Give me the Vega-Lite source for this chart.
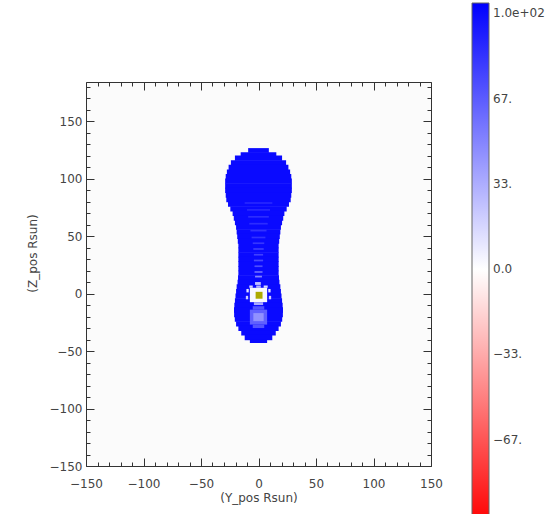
{
  "$schema": "https://vega.github.io/schema/vega-lite/v6.json",
  "width": 345,
  "height": 384,
  "autosize": "none",
  "padding": {"left": 86, "top": 82, "right": 128, "bottom": 48},
  "background": "white",
  "config": {
    "view": {"stroke": null, "fill": "#fbfbfb"},
    "axis": {
      "grid": false,
      "labelFont": "DejaVu Sans",
      "labelFontSize": 12,
      "labelColor": "#444",
      "titleFont": "DejaVu Sans",
      "titleFontSize": 12,
      "titleFontWeight": "normal",
      "titleColor": "#444",
      "domainColor": "#333",
      "tickColor": "#333",
      "labelFlush": false,
      "labelOverlap": false
    },
    "legend": {
      "labelFont": "DejaVu Sans",
      "labelFontSize": 12,
      "labelColor": "#444"
    }
  },
  "resolve": {"axis": {"x": "independent", "y": "independent"}},
  "layer": [
    {
      "data": {
        "values": [
          {"y0": -9, "y1": 9, "z0": 122.4, "z1": 126.5, "v": 100},
          {"y0": -15.5, "y1": 15.5, "z0": 119.4, "z1": 123, "v": 100},
          {"y0": -20.5, "y1": 20.5, "z0": 115.4, "z1": 120, "v": 100},
          {"y0": -24, "y1": 24, "z0": 111.4, "z1": 116, "v": 100},
          {"y0": -26, "y1": 26, "z0": 107.4, "z1": 112, "v": 100},
          {"y0": -27.5, "y1": 27.5, "z0": 103.4, "z1": 108, "v": 100},
          {"y0": -28.5, "y1": 28.5, "z0": 99.4, "z1": 104, "v": 100},
          {"y0": -29, "y1": 29, "z0": 95.4, "z1": 100, "v": 100},
          {"y0": -29, "y1": 29, "z0": 91.4, "z1": 96, "v": 100},
          {"y0": -29, "y1": 29, "z0": 87.4, "z1": 92, "v": 100},
          {"y0": -28.5, "y1": 28.5, "z0": 83.4, "z1": 88, "v": 100},
          {"y0": -28, "y1": 28, "z0": 79.4, "z1": 84, "v": 100},
          {"y0": -26.5, "y1": 26.5, "z0": 75.4, "z1": 80, "v": 100},
          {"y0": -24.5, "y1": 24.5, "z0": 71.4, "z1": 76, "v": 100},
          {"y0": -22.5, "y1": 22.5, "z0": 67.4, "z1": 72, "v": 100},
          {"y0": -21.5, "y1": 21.5, "z0": 63.4, "z1": 68, "v": 100},
          {"y0": -20.5, "y1": 20.5, "z0": 59.4, "z1": 64, "v": 100},
          {"y0": -19.5, "y1": 19.5, "z0": 55.4, "z1": 60, "v": 100},
          {"y0": -19, "y1": 19, "z0": 51.4, "z1": 56, "v": 100},
          {"y0": -18.5, "y1": 18.5, "z0": 47.4, "z1": 52, "v": 100},
          {"y0": -18, "y1": 18, "z0": 43.4, "z1": 48, "v": 100},
          {"y0": -17.5, "y1": 17.5, "z0": 39.4, "z1": 44, "v": 100},
          {"y0": -17.5, "y1": 17.5, "z0": 35.4, "z1": 40, "v": 100},
          {"y0": -17.5, "y1": 17.5, "z0": 31.4, "z1": 36, "v": 100},
          {"y0": -17.5, "y1": 17.5, "z0": 27.4, "z1": 32, "v": 100},
          {"y0": -17.5, "y1": 17.5, "z0": 23.4, "z1": 28, "v": 100},
          {"y0": -17.5, "y1": 17.5, "z0": 19.4, "z1": 24, "v": 100},
          {"y0": -17.5, "y1": 17.5, "z0": 15.4, "z1": 20, "v": 100},
          {"y0": -17.8, "y1": 17.8, "z0": 11.4, "z1": 16, "v": 100},
          {"y0": -18.2, "y1": 18.2, "z0": 7.4, "z1": 12, "v": 100},
          {"y0": -19, "y1": 19, "z0": 3.4, "z1": 8, "v": 100},
          {"y0": -19.5, "y1": 19.5, "z0": -0.6, "z1": 4, "v": 100},
          {"y0": -20, "y1": 20, "z0": -4.6, "z1": 0, "v": 100},
          {"y0": -20.5, "y1": 20.5, "z0": -8.6, "z1": -4, "v": 100},
          {"y0": -21, "y1": 21, "z0": -12.6, "z1": -8, "v": 100},
          {"y0": -21.3, "y1": 21.3, "z0": -16.6, "z1": -12, "v": 100},
          {"y0": -21.2, "y1": 21.2, "z0": -20.6, "z1": -16, "v": 100},
          {"y0": -20.6, "y1": 20.6, "z0": -24.6, "z1": -20, "v": 100},
          {"y0": -19.5, "y1": 19.5, "z0": -28.6, "z1": -24, "v": 100},
          {"y0": -17.5, "y1": 17.5, "z0": -32.6, "z1": -28, "v": 100},
          {"y0": -15, "y1": 15, "z0": -36.6, "z1": -32, "v": 100},
          {"y0": -12, "y1": 12, "z0": -40.6, "z1": -36, "v": 100},
          {"y0": -7.5, "y1": 7.5, "z0": -43, "z1": -40, "v": 100},
          {"y0": -12, "y1": 12, "z0": 78, "z1": 79.5, "v": 88},
          {"y0": -10, "y1": 10, "z0": 72, "z1": 73.5, "v": 88},
          {"y0": -9, "y1": 9, "z0": 66, "z1": 67.5, "v": 86},
          {"y0": -8, "y1": 8, "z0": 60, "z1": 61.5, "v": 86},
          {"y0": -7, "y1": 7, "z0": 54, "z1": 55.5, "v": 84},
          {"y0": -6, "y1": 6, "z0": 48, "z1": 49.5, "v": 84},
          {"y0": -5, "y1": 5, "z0": 43, "z1": 44.5, "v": 82},
          {"y0": -4.5, "y1": 4.5, "z0": 38, "z1": 39.5, "v": 80},
          {"y0": -4, "y1": 4, "z0": 33, "z1": 34.5, "v": 78},
          {"y0": -4, "y1": 4, "z0": 28, "z1": 29.5, "v": 75},
          {"y0": -3.5, "y1": 3.5, "z0": 23, "z1": 24.5, "v": 72},
          {"y0": -3.5, "y1": 3.5, "z0": 18, "z1": 19.5, "v": 62},
          {"y0": -3, "y1": 3, "z0": 14, "z1": 15.5, "v": 50},
          {"y0": -3, "y1": 2, "z0": 7.5, "z1": 10, "v": 25},
          {"y0": -2, "y1": 2, "z0": 5, "z1": 7, "v": 30},
          {"y0": -8, "y1": -5, "z0": 5, "z1": 7, "v": 15},
          {"y0": 4.5, "y1": 8, "z0": 5, "z1": 7, "v": 15},
          {"y0": -7.5, "y1": 7.5, "z0": -7.5, "z1": 5, "v": 3},
          {"y0": -10.5, "y1": -8.5, "z0": 1, "z1": 4, "v": 10},
          {"y0": 8.5, "y1": 10.5, "z0": 1, "z1": 4, "v": 10},
          {"y0": -11, "y1": -9, "z0": -5, "z1": -2, "v": 20},
          {"y0": 9, "y1": 11, "z0": -5, "z1": -2, "v": 20},
          {"y0": -4, "y1": 4, "z0": -10, "z1": -7.5, "v": 35},
          {"y0": -5, "y1": 5, "z0": -14, "z1": -11, "v": 70},
          {"y0": -7.5, "y1": 7.5, "z0": -27, "z1": -14, "v": 65},
          {"y0": -4.5, "y1": 4.5, "z0": -24, "z1": -17, "v": 45},
          {"y0": -5, "y1": 5, "z0": -30, "z1": -27, "v": 70}
        ]
      },
      "mark": {"type": "rect"},
      "encoding": {
        "x": {
          "field": "y0", "type": "quantitative",
          "scale": {"domain": [-150, 150], "nice": false, "zero": false},
          "axis": {
            "orient": "bottom",
            "title": "(Y_pos Rsun)",
            "titleY": 31,
            "titleBaseline": "middle",
            "values": [-150,-140,-130,-120,-110,-100,-90,-80,-70,-60,-50,-40,-30,-20,-10,0,10,20,30,40,50,60,70,80,90,100,110,120,130,140,150],
            "labelExpr": "datum.value % 50 === 0 ? datum.label : ''",
            "tickSize": {"condition": {"test": "datum.value % 50 === 0", "value": -8}, "value": -4},
            "labelPadding": 20
          }
        },
        "x2": {"field": "y1"},
        "y": {
          "field": "z0", "type": "quantitative",
          "scale": {"domain": [-150, 184], "nice": false, "zero": false},
          "axis": {
            "orient": "left",
            "title": "(Z_pos Rsun)",
            "titleX": -54,
            "titleY": 171,
            "titleBaseline": "middle",
            "values": [-150,-140,-130,-120,-110,-100,-90,-80,-70,-60,-50,-40,-30,-20,-10,0,10,20,30,40,50,60,70,80,90,100,110,120,130,140,150,160,170,180],
            "labelExpr": "datum.value % 50 === 0 ? datum.label : ''",
            "tickSize": {"condition": {"test": "datum.value % 50 === 0", "value": -8}, "value": -4},
            "labelPadding": 12
          }
        },
        "y2": {"field": "z1"},
        "color": {
          "field": "v", "type": "quantitative",
          "scale": {"domain": [-100, 104], "domainMid": 0, "range": ["#ff0000", "#ffffff", "#0000ff"], "interpolate": "rgb"},
          "legend": {
            "type": "gradient",
            "orient": "none",
            "legendX": 386,
            "legendY": -79,
            "direction": "vertical",
            "title": null,
            "gradientLength": 522,
            "gradientThickness": 17,
            "gradientStrokeColor": "#666",
            "gradientStrokeWidth": 1,
            "values": [100, 66.667, 33.333, 0, -33.333, -66.667],
            "labelExpr": "datum.value > 90 ? '1.0e+02' : datum.value > 50 ? '67.' : datum.value > 20 ? '33.' : datum.value > -10 ? '0.0' : datum.value > -50 ? '−33.' : '−67.'",
            "labelOffset": 4,
            "labelOverlap": false
          }
        }
      }
    },
    {
      "data": {"values": [{"y0": -2.5, "y1": 3.5, "z0": -4.5, "z1": 1.5}]},
      "mark": {"type": "rect", "color": "#adaa00"},
      "encoding": {
        "x": {
          "field": "y0", "type": "quantitative",
          "axis": {
            "orient": "top",
            "title": null,
            "labels": false,
            "values": [-150,-140,-130,-120,-110,-100,-90,-80,-70,-60,-50,-40,-30,-20,-10,0,10,20,30,40,50,60,70,80,90,100,110,120,130,140,150],
            "tickSize": {"condition": {"test": "datum.value % 50 === 0", "value": -8}, "value": -4}
          }
        },
        "x2": {"field": "y1"},
        "y": {
          "field": "z0", "type": "quantitative",
          "axis": {
            "orient": "right",
            "title": null,
            "labels": false,
            "values": [-150,-140,-130,-120,-110,-100,-90,-80,-70,-60,-50,-40,-30,-20,-10,0,10,20,30,40,50,60,70,80,90,100,110,120,130,140,150,160,170,180],
            "tickSize": {"condition": {"test": "datum.value % 50 === 0", "value": -8}, "value": -4}
          }
        },
        "y2": {"field": "z1"}
      }
    }
  ]
}
